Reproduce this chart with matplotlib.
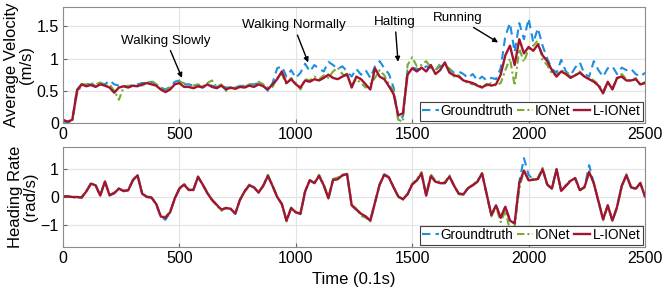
import numpy as np
import matplotlib
matplotlib.use("Agg")
import matplotlib.pyplot as plt

plt.rcParams['font.family'] = ['Liberation Sans', 'DejaVu Sans']

# time axis (0.1 s steps), one sample every 20
t = np.arange(0, 2501, 20)

# --- average velocity (m/s) ---
vel_gt = [0.03, 0.0, 0.05, 0.52, 0.6, 0.6, 0.6, 0.58, 0.62, 0.6,
          0.66, 0.6, 0.58, 0.58, 0.56, 0.6, 0.6, 0.62, 0.62, 0.64,
          0.6, 0.55, 0.52, 0.56, 0.64, 0.66, 0.6, 0.6, 0.58, 0.58,
          0.56, 0.6, 0.58, 0.56, 0.58, 0.55, 0.55, 0.56, 0.57, 0.58,
          0.6, 0.6, 0.62, 0.58, 0.5, 0.62, 0.85, 0.88, 0.72, 0.82,
          0.7, 0.78, 0.92, 0.8, 0.9, 0.84, 0.8, 0.95, 0.9, 0.84,
          0.88, 0.8, 0.72, 0.84, 0.75, 0.82, 0.7, 0.88, 0.96, 0.85,
          0.76, 0.55, 0.05, 0.1, 0.82, 0.86, 0.84, 0.82, 0.88, 0.86,
          0.82, 0.88, 0.9, 0.84, 0.78, 0.8, 0.76, 0.7, 0.76, 0.66,
          0.72, 0.66, 0.7, 0.68, 0.85, 1.35, 1.55, 1.1, 1.55, 1.3,
          1.62, 1.25, 1.47, 1.2, 1.0, 0.84, 0.78, 0.98, 0.8, 0.74,
          0.86, 0.94, 0.76, 0.72, 0.96, 0.82, 0.72, 0.85, 0.88, 0.76,
          0.86, 0.82, 0.84, 0.76, 0.72, 0.78]
vel_ionet = [0.04, 0.02, 0.04, 0.45, 0.6, 0.6, 0.62, 0.6, 0.63, 0.58,
             0.6, 0.5, 0.36, 0.55, 0.58, 0.55, 0.6, 0.58, 0.62, 0.66,
             0.6, 0.55, 0.5, 0.55, 0.6, 0.64, 0.62, 0.6, 0.58, 0.6,
             0.57, 0.62, 0.66, 0.56, 0.6, 0.5, 0.54, 0.55, 0.58, 0.56,
             0.6, 0.58, 0.64, 0.6, 0.55, 0.56, 0.7, 0.76, 0.6, 0.7,
             0.62, 0.52, 0.68, 0.66, 0.72, 0.68, 0.74, 0.7, 0.8, 0.86,
             0.76, 0.72, 0.6, 0.68, 0.62, 0.55, 0.6, 0.7, 0.82, 0.74,
             0.6, 0.5, 0.05, 0.02, 0.9, 1.02, 0.88, 0.9, 0.96, 0.86,
             0.82, 0.92, 0.9, 0.84, 0.72, 0.74, 0.66, 0.62, 0.6, 0.6,
             0.56, 0.58, 0.62, 0.58, 0.62, 0.82, 1.0, 0.58, 1.15, 0.95,
             1.15, 1.2, 1.28, 0.98, 0.9, 0.76, 0.74, 0.82, 0.78, 0.72,
             0.74, 0.8, 0.72, 0.7, 0.66, 0.6, 0.5, 0.62, 0.55, 0.68,
             0.76, 0.68, 0.64, 0.7, 0.58, 0.64]
vel_lionet = [0.05, 0.02, 0.05, 0.5, 0.6, 0.57, 0.59, 0.56, 0.6, 0.58,
              0.55, 0.47, 0.55, 0.57, 0.55, 0.58, 0.57, 0.6, 0.62, 0.6,
              0.58, 0.52, 0.48, 0.52, 0.6, 0.62, 0.56, 0.56, 0.54, 0.57,
              0.55, 0.6, 0.56, 0.54, 0.58, 0.52, 0.55, 0.53, 0.56, 0.55,
              0.58, 0.56, 0.6, 0.57, 0.52, 0.6, 0.68, 0.8, 0.62, 0.68,
              0.6, 0.55, 0.66, 0.64, 0.68, 0.66, 0.7, 0.75, 0.7, 0.68,
              0.72, 0.76, 0.55, 0.72, 0.68, 0.6, 0.52, 0.85, 0.72, 0.68,
              0.57, 0.45, 0.12, 0.15, 0.75, 0.85, 0.8, 0.86, 0.8, 0.9,
              0.76, 0.82, 0.94, 0.78, 0.74, 0.72, 0.66, 0.64, 0.62, 0.58,
              0.55, 0.6, 0.58, 0.6, 0.75, 1.05, 1.2, 0.9, 1.3, 1.08,
              1.18, 1.12, 1.22, 1.05, 0.96, 0.82, 0.72, 0.8, 0.76, 0.7,
              0.74, 0.78, 0.72, 0.68, 0.64, 0.58, 0.46, 0.64, 0.52, 0.7,
              0.72, 0.66, 0.66, 0.68, 0.6, 0.62]

# --- heading rate (rad/s) ---
head_gt = [0.02, 0.02, 0.0, 0.0, -0.02, 0.2, 0.5, 0.42, 0.05, 0.56,
           0.06, 0.14, 0.3, 0.22, 0.24, 0.6, 0.8, 0.12, 0.0, -0.02,
           -0.25, -0.72, -0.82, -0.55, -0.05, 0.3, 0.45, 0.25, 0.26, 0.74,
           0.45, 0.14, -0.1, -0.28, -0.45, -0.4, -0.42, -0.6, -0.1, 0.2,
           0.42, 0.35, 0.16, 0.4, 0.78, 0.4, 0.0, -0.25, -0.85, -0.4,
           -0.55, -0.62, 0.2, 0.6, 0.5, 0.76, 0.42, -0.05, 0.62, 0.64,
           0.78, 0.84, -0.3, -0.45, -0.6, -0.7, -0.85, -0.2, 0.45, 0.82,
           0.7, 0.35, 0.02, -0.08, 0.1, 0.45, 0.6, 0.85, 0.05, 0.75,
           0.55, 0.5, 0.5, 0.74, 0.4, 0.12, 0.1, 0.32, 0.42, 0.55,
           0.85, 0.1, -0.65, -0.3, -0.75, -0.35, -0.85, -0.95, 0.55, 1.4,
           0.8, 0.62, 0.65, 1.0, 0.45, 0.3, 1.0, 0.22, 0.4, 0.58,
           0.68, 0.25, 0.35, 1.15, 0.5, -0.15, -0.82, -0.3, -0.88, -0.35,
           0.4, 0.8, 0.35, 0.3, 0.5, 0.02]
head_ionet = [0.02, 0.04, 0.0, -0.04, 0.0, 0.22, 0.48, 0.44, 0.08, 0.55,
              0.08, 0.16, 0.32, 0.2, 0.26, 0.62, 0.8, 0.14, 0.02, 0.0,
              -0.22, -0.68, -0.72, -0.52, -0.08, 0.32, 0.48, 0.28, 0.24, 0.74,
              0.44, 0.16, -0.12, -0.3, -0.5, -0.38, -0.45, -0.58, -0.12, 0.22,
              0.45, 0.33, 0.18, 0.42, 0.8, 0.42, 0.02, -0.28, -0.88, -0.38,
              -0.56, -0.58, 0.22, 0.62, 0.52, 0.8, 0.45, -0.02, 0.65, 0.7,
              0.8, 0.86, -0.28, -0.42, -0.68, -0.74, -0.88, -0.22, 0.42, 0.84,
              0.72, 0.36, 0.0, -0.1, 0.12, 0.48, 0.64, 0.9, 0.08, 0.82,
              0.58, 0.55, 0.52, 0.78, 0.42, 0.1, 0.08, 0.34, 0.44, 0.58,
              0.86, 0.08, -0.7, -0.35, -0.9, -0.5, -1.2, -1.05, 0.3, 0.95,
              0.62, 0.66, 0.7, 1.05, 0.42, 0.32, 0.98, 0.2, 0.44, 0.62,
              0.66, 0.22, 0.38, 0.92, 0.48, -0.18, -0.84, -0.32, -0.84, -0.4,
              0.36, 0.82, 0.38, 0.26, 0.52, 0.0]
head_lionet = [0.02, 0.02, 0.0, 0.0, -0.02, 0.2, 0.48, 0.42, 0.05, 0.56,
               0.06, 0.14, 0.3, 0.22, 0.24, 0.6, 0.78, 0.12, 0.0, -0.02,
               -0.25, -0.7, -0.75, -0.55, -0.05, 0.3, 0.45, 0.25, 0.26, 0.72,
               0.45, 0.14, -0.1, -0.28, -0.45, -0.4, -0.42, -0.6, -0.1, 0.2,
               0.42, 0.35, 0.16, 0.4, 0.76, 0.4, 0.0, -0.25, -0.85, -0.4,
               -0.55, -0.6, 0.2, 0.6, 0.5, 0.76, 0.42, -0.05, 0.62, 0.64,
               0.78, 0.82, -0.3, -0.45, -0.6, -0.7, -0.85, -0.2, 0.45, 0.8,
               0.7, 0.35, 0.02, -0.08, 0.1, 0.45, 0.6, 0.85, 0.05, 0.75,
               0.55, 0.5, 0.5, 0.74, 0.4, 0.12, 0.1, 0.32, 0.42, 0.55,
               0.85, 0.1, -0.65, -0.3, -0.75, -0.35, -0.85, -0.95, 0.5, 0.95,
               0.6, 0.62, 0.65, 1.0, 0.45, 0.3, 1.0, 0.22, 0.4, 0.58,
               0.68, 0.25, 0.35, 0.9, 0.5, -0.15, -0.8, -0.3, -0.85, -0.35,
               0.4, 0.78, 0.35, 0.3, 0.5, 0.02]

c_gt = '#1e8ee0'
c_io = '#77ac30'
c_li = '#a2142f'

fig = plt.figure(figsize=(6.64, 2.91), dpi=100)
ax1 = fig.add_axes([0.0949, 0.5773, 0.8765, 0.3986])
ax2 = fig.add_axes([0.0949, 0.1512, 0.8765, 0.3436])


def draw(ax, gt, io, li):
    ax.plot(t, gt, color=c_gt, lw=1.5, dashes=(4, 2.5), label='Groundtruth')
    ax.plot(t, io, color=c_io, lw=1.5, dashes=(3.5, 1.5, 1, 1.5), label='IONet')
    ax.plot(t, li, color=c_li, lw=1.7, label='L-IONet')
    ax.set_xlim(0, 2500)
    ax.set_xticks([0, 500, 1000, 1500, 2000, 2500])
    ax.grid(True, color='#e3e3e3', lw=0.8)
    ax.set_axisbelow(True)
    ax.tick_params(direction='in', length=3, labelsize=11.5, color='0.4', pad=3)
    for s in ax.spines.values():
        s.set_color('0.55')
        s.set_linewidth(0.8)
    leg = ax.legend(loc='lower right', ncol=3, fontsize=9.8, handlelength=1.2,
                    handletextpad=0.15, columnspacing=0.25, borderpad=0.2,
                    borderaxespad=0.15, fancybox=False, framealpha=1)
    leg.get_frame().set_edgecolor('0.25')
    leg.get_frame().set_linewidth(0.8)


draw(ax1, vel_gt, vel_ionet, vel_lionet)
ax1.set_ylim(0, 1.8)
ax1.set_yticks([0, 0.5, 1, 1.5])
ax1.set_yticklabels(['0', '0.5', '1', '1.5'])
ax1.set_ylabel('Average Velocity\n(m/s)', fontsize=12, linespacing=0.95, labelpad=2)

draw(ax2, head_gt, head_ionet, head_lionet)
ax2.set_ylim(-1.8, 1.8)
ax2.set_yticks([-1, 0, 1])
ax2.set_ylabel('Heading Rate\n(rad/s)', fontsize=12, linespacing=0.95, labelpad=2)
ax2.set_xlabel('Time (0.1s)', fontsize=12, labelpad=4)

arrow = dict(arrowstyle='-|>', color='k', lw=1.0, mutation_scale=7, shrinkA=1, shrinkB=0)
ax1.annotate('Walking Slowly', xy=(511, 0.7), xytext=(443, 1.28),
             ha='center', va='center', fontsize=9.6, arrowprops=arrow)
ax1.annotate('Walking Normally', xy=(1053, 0.94), xytext=(990, 1.52),
             ha='center', va='center', fontsize=9.6, arrowprops=arrow)
ax1.annotate('Halting', xy=(1439, 0.95), xytext=(1426, 1.57),
             ha='center', va='center', fontsize=9.6, arrowprops=arrow)
ax1.annotate('Running', xy=(1869, 1.25), xytext=(1697, 1.63),
             ha='center', va='center', fontsize=9.6, arrowprops=arrow)

fig.savefig('out.png', dpi=100)
